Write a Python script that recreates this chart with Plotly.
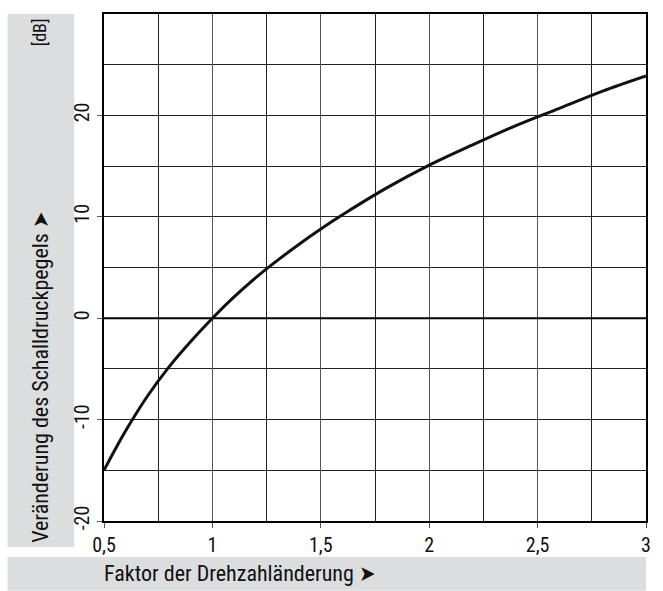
import plotly.graph_objects as go

# Speed factor and resulting sound pressure level change
speed_factor = [0.5, 0.55, 0.6, 0.7, 0.8, 0.9, 1.0, 1.1, 1.2, 1.3, 1.4, 1.5,
                1.6, 1.8, 2.0, 2.2, 2.4, 2.6, 2.8, 3.0]
level_change_db = [-15.0, -13.0, -11.1, -7.7, -4.8, -2.3, 0.0, 2.1, 4.0, 5.7,
                   7.3, 8.8, 10.2, 12.8, 15.1, 17.1, 19.0, 20.7, 22.4, 23.9]

x_tick_vals = [0.5, 1, 1.5, 2, 2.5, 3]
x_tick_text = ["0,5", "1", "1,5", "2", "2,5", "3"]
y_tick_vals = [-20, -10, 0, 10, 20]
y_tick_text = ["-20", "-10", "0", "10", "20"]

x_title = "Faktor der Drehzahländerung ➤"
y_title = "Veränderung des Schalldruckpegels ➤"
unit_label = "[dB]"

FONT = "Roboto Condensed, Liberation Sans Narrow, DejaVu Sans Condensed, Arial Narrow, sans-serif"
TEXT = "#111111"
PANEL = "#dcdddf"

fig = go.Figure()

# zero reference line
fig.add_trace(go.Scatter(x=[0.5, 3], y=[0, 0], mode="lines",
                         line=dict(color="black", width=2),
                         hoverinfo="skip", showlegend=False))

fig.add_trace(go.Scatter(x=speed_factor, y=level_change_db, mode="lines",
                         line=dict(color="#111111", width=3, shape="spline"),
                         showlegend=False))

W, H = 663, 591
L, R, T, B = 104, 14, 13, 70
pw, ph = W - L - R, H - T - B


def px_x(p):
    return (p - L) / pw


def px_y(p):
    return (H - B - p) / ph


# grey caption panels
fig.add_shape(type="rect", xref="paper", yref="paper",
              x0=px_x(7), x1=px_x(74), y0=px_y(547), y1=px_y(13),
              fillcolor=PANEL, line=dict(width=0), layer="below")
fig.add_shape(type="rect", xref="paper", yref="paper",
              x0=px_x(7), x1=px_x(649), y0=px_y(591), y1=px_y(557),
              fillcolor=PANEL, line=dict(width=0), layer="below")

fig.add_annotation(text=y_title, xref="paper", yref="paper",
                   x=px_x(40), y=px_y(545), textangle=-90,
                   xanchor="center", yanchor="bottom", showarrow=False,
                   font=dict(family=FONT, size=22, color=TEXT))
fig.add_annotation(text=unit_label, xref="paper", yref="paper",
                   x=px_x(40), y=px_y(15), textangle=-90,
                   xanchor="center", yanchor="top", showarrow=False,
                   font=dict(family=FONT, size=18, color=TEXT))
fig.add_annotation(text=x_title, xref="paper", yref="paper",
                   x=px_x(102), y=px_y(574), xanchor="left", yanchor="middle",
                   showarrow=False,
                   font=dict(family=FONT, size=22, color=TEXT))

fig.update_xaxes(range=[0.5, 3], tickvals=x_tick_vals, ticktext=x_tick_text,
                 showgrid=True, gridcolor="#555555", gridwidth=1,
                 minor=dict(dtick=0.25, tick0=0.5, showgrid=True,
                            gridcolor="#222222", gridwidth=1),
                 ticks="outside", ticklen=5, tickcolor="#555555",
                 showline=True, linecolor="black", linewidth=1.5, mirror=True,
                 zeroline=False,
                 tickfont=dict(family=FONT, size=20, color=TEXT))
fig.update_yaxes(range=[-20, 30], tickvals=y_tick_vals, ticktext=y_tick_text,
                 tickangle=-90,
                 showgrid=True, gridcolor="#222222", gridwidth=1,
                 minor=dict(dtick=5, tick0=-20, showgrid=True,
                            gridcolor="#222222", gridwidth=1),
                 ticks="outside", ticklen=5, tickcolor="#555555",
                 showline=True, linecolor="black", linewidth=1.5, mirror=True,
                 zeroline=False,
                 tickfont=dict(family=FONT, size=20, color=TEXT))

fig.update_layout(width=W, height=H,
                  margin=dict(l=L, r=R, t=T, b=B),
                  paper_bgcolor="white", plot_bgcolor="white",
                  font=dict(family=FONT))

fig.write_html("out.html")
